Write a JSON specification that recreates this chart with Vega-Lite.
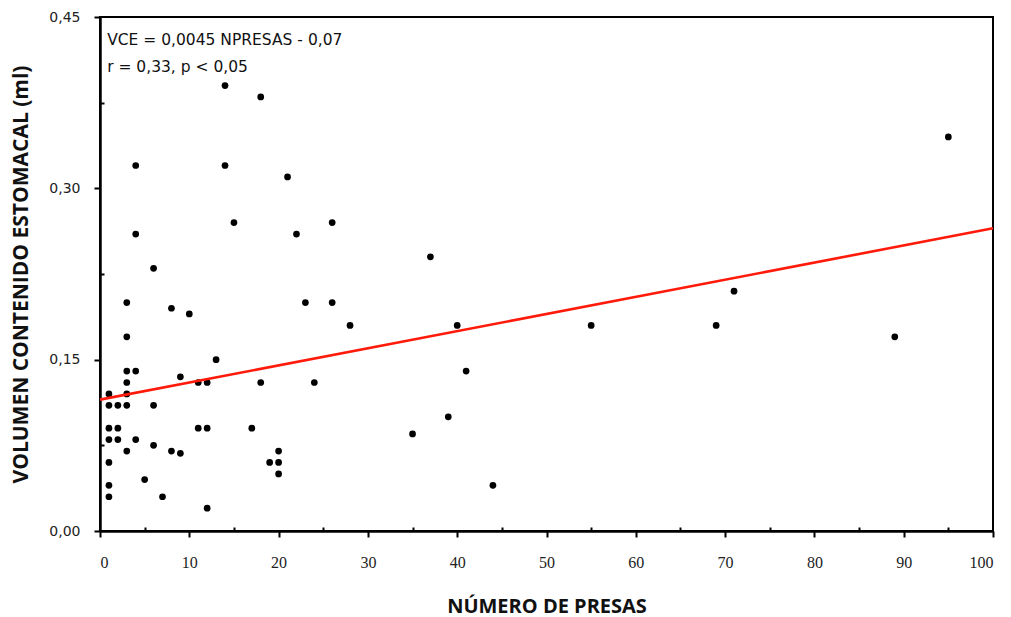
{
  "$schema": "https://vega.github.io/schema/vega-lite/v6.json",
  "autosize": "none",
  "width": 893,
  "height": 514,
  "padding": {"left": 100, "top": 17, "right": 18, "bottom": 86},
  "background": "white",
  "config": {
    "view": {"stroke": "black", "strokeWidth": 2},
    "axis": {"grid": false, "domainColor": "black", "domainWidth": 2.5, "tickColor": "black", "tickWidth": 2, "labelColor": "#222", "titleColor": "#111"}
  },
  "datasets": {
    "pts": [
      {"x": 14, "y": 0.39}, {"x": 18, "y": 0.38}, {"x": 4, "y": 0.32}, {"x": 14, "y": 0.32}, {"x": 21, "y": 0.31},
      {"x": 15, "y": 0.27}, {"x": 26, "y": 0.27}, {"x": 4, "y": 0.26}, {"x": 22, "y": 0.26}, {"x": 95, "y": 0.345},
      {"x": 37, "y": 0.24}, {"x": 6, "y": 0.23}, {"x": 71, "y": 0.21}, {"x": 3, "y": 0.2}, {"x": 23, "y": 0.2},
      {"x": 26, "y": 0.2}, {"x": 8, "y": 0.195}, {"x": 10, "y": 0.19}, {"x": 28, "y": 0.18}, {"x": 40, "y": 0.18},
      {"x": 55, "y": 0.18}, {"x": 69, "y": 0.18}, {"x": 3, "y": 0.17}, {"x": 89, "y": 0.17}, {"x": 13, "y": 0.15},
      {"x": 3, "y": 0.14}, {"x": 4, "y": 0.14}, {"x": 41, "y": 0.14}, {"x": 9, "y": 0.135}, {"x": 3, "y": 0.13},
      {"x": 11, "y": 0.13}, {"x": 12, "y": 0.13}, {"x": 18, "y": 0.13}, {"x": 24, "y": 0.13}, {"x": 1, "y": 0.12},
      {"x": 3, "y": 0.12}, {"x": 1, "y": 0.11}, {"x": 2, "y": 0.11}, {"x": 3, "y": 0.11}, {"x": 6, "y": 0.11},
      {"x": 39, "y": 0.1}, {"x": 1, "y": 0.09}, {"x": 2, "y": 0.09}, {"x": 11, "y": 0.09}, {"x": 12, "y": 0.09},
      {"x": 17, "y": 0.09}, {"x": 35, "y": 0.085}, {"x": 1, "y": 0.08}, {"x": 2, "y": 0.08}, {"x": 4, "y": 0.08},
      {"x": 6, "y": 0.075}, {"x": 3, "y": 0.07}, {"x": 8, "y": 0.07}, {"x": 9, "y": 0.068}, {"x": 20, "y": 0.07},
      {"x": 1, "y": 0.06}, {"x": 19, "y": 0.06}, {"x": 20, "y": 0.06}, {"x": 20, "y": 0.05}, {"x": 5, "y": 0.045},
      {"x": 1, "y": 0.04}, {"x": 44, "y": 0.04}, {"x": 1, "y": 0.03}, {"x": 7, "y": 0.03}, {"x": 12, "y": 0.02}
    ],
    "fit": [{"x": 0, "y": 0.115}, {"x": 100, "y": 0.265}],
    "notes": [
      {"x": 0.8, "y": 0.43, "label": "VCE = 0,0045 NPRESAS - 0,07"},
      {"x": 0.8, "y": 0.406, "label": "r = 0,33, p < 0,05"}
    ]
  },
  "encoding": {
    "x": {
      "field": "x", "type": "quantitative",
      "scale": {"domain": [0, 100], "nice": false, "zero": false},
      "axis": {
        "values": [0,5,10,15,20,25,30,35,40,45,50,55,60,65,70,75,80,85,90,95,100],
        "labelExpr": "datum.value % 10 === 0 ? datum.label : ''",
        "tickSize": {"condition": {"test": "datum.value % 10 !== 0", "value": -4}, "value": 6},
        "labelFont": "Liberation Sans Narrow", "labelFontSize": 16, "labelPadding": 17,
        "title": "NÚMERO DE PRESAS", "titleFont": "Open Sans", "titleFontWeight": "bold", "titleFontSize": 20, "titlePadding": 26
      }
    },
    "y": {
      "field": "y", "type": "quantitative",
      "scale": {"domain": [0, 0.45], "nice": false, "zero": false},
      "axis": {
        "values": [0, 0.075, 0.15, 0.225, 0.3, 0.375, 0.45],
        "labelExpr": "round(datum.value*1000) % 150 === 0 ? replace(format(datum.value, '.2f'), '.', ',') : ''",
        "tickSize": {"condition": {"test": "round(datum.value*1000) % 150 !== 0", "value": -4}, "value": 6},
        "labelFont": "DejaVu Sans", "labelFontSize": 14, "labelPadding": 14,
        "title": "VOLUMEN CONTENIDO ESTOMACAL (ml)", "titleFont": "Open Sans", "titleFontWeight": "bold", "titleFontSize": 21, "titlePadding": 17
      }
    }
  },
  "layer": [
    {"data": {"name": "pts"}, "mark": {"type": "circle", "color": "black", "opacity": 1, "size": 45}},
    {"data": {"name": "fit"}, "mark": {"type": "line", "color": "#ff1a0a", "strokeWidth": 2.6}},
    {"data": {"name": "notes"}, "mark": {"type": "text", "align": "left", "baseline": "middle", "font": "DejaVu Sans", "fontSize": 15.5, "color": "#111"}, "encoding": {"text": {"field": "label"}}}
  ]
}
